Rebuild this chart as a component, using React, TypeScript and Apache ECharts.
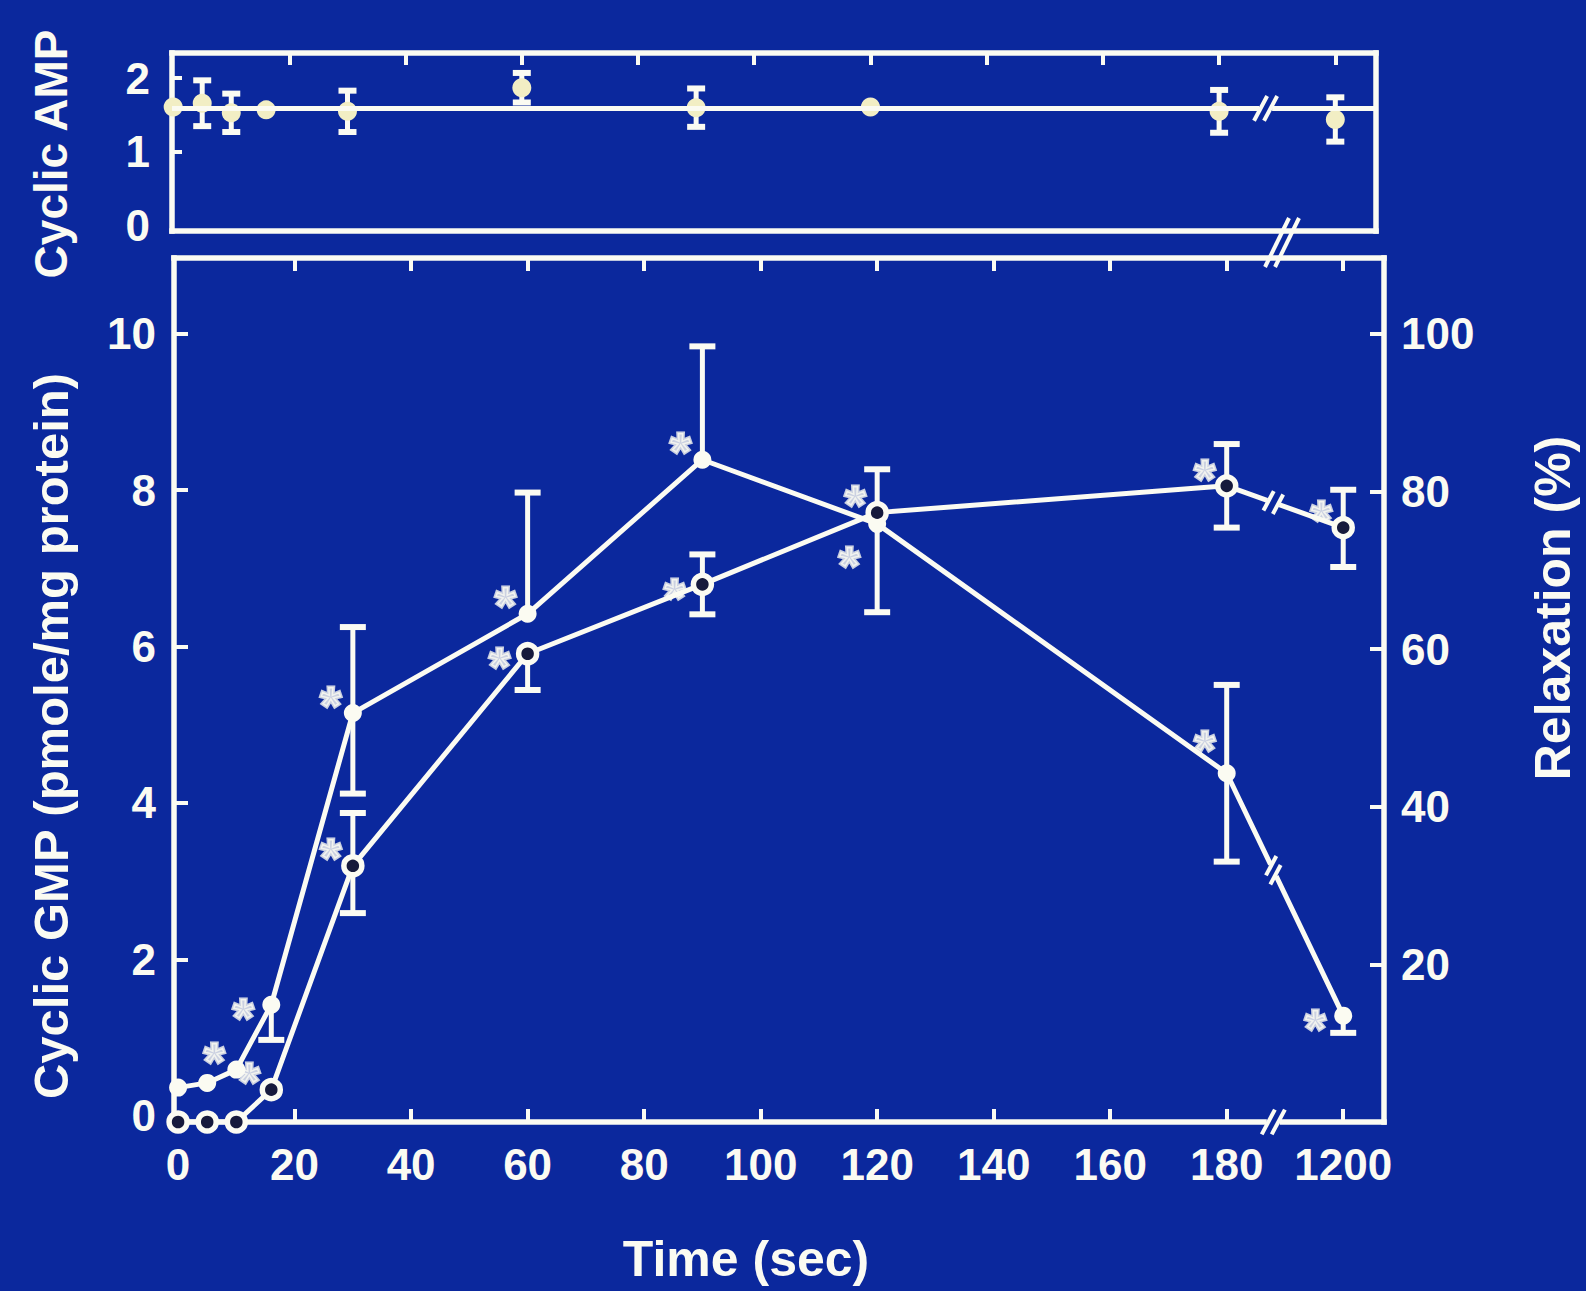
import { useEffect, useRef } from "react";
import * as echarts from "echarts";

// ---------------- data ----------------
const times = [0, 5, 10, 16, 30, 60, 90, 120, 180, 1200];
const xTickValues = [0, 20, 40, 60, 80, 100, 120, 140, 160, 180, 200];
const xTickLabels = ["0", "20", "40", "60", "80", "100", "120", "140", "160", "180", "1200"];

// cyclic AMP (top panel)
const cAmp = [1.61, 1.66, 1.53, 1.57, 1.55, 1.87, 1.6, 1.61, 1.55, 1.44];
const cAmpErr = [0, 0.31, 0.26, 0, 0.28, 0.2, 0.26, 0, 0.29, 0.3];
const cAmpLevel = 1.59;
const cAmpTicks = [0, 1, 2];

// cyclic GMP (pmole/mg protein), filled circles
const cGmp = [0.36, 0.42, 0.59, 1.42, 5.15, 6.42, 8.39, 7.57, 4.38, 1.28];
const cGmpErrUp = [0, 0, 0, 0, 1.1, 1.55, 1.45, 0, 1.13, 0];
const cGmpErrDown = [0, 0, 0, 0.45, 1.03, 0, 0, 1.13, 1.13, 0.22];
const cGmpTicks = [0, 2, 4, 6, 8, 10];

// relaxation (%), open circles
const relax = [0, 0, 0, 4.1, 32.5, 59.4, 68.2, 77.3, 80.7, 75.4];
const relaxErrUp = [0, 0, 0, 0, 6.7, 0, 3.8, 5.5, 5.3, 4.8];
const relaxErrDown = [0, 0, 0, 0, 6.0, 4.6, 3.8, 0, 5.3, 5.0];
const relaxTicks = [20, 40, 60, 80, 100];

// significance asterisks (placement keys, "" = none)
const cGmpStars = ["", "", "ul", "l", "ul", "ul", "ul", "dl", "uul", "l"];
const relaxStars = ["", "", "", "ul", "ul", "l", "l", "ul", "ul", "ul"];

// broken time axis: 1200 s is drawn in the slot of 200
const BROKEN_TIME = 1200;
const BROKEN_SLOT = 200;
const BREAK_AT = 188;
const PANEL_BREAK_AT = 191;
const pos = (t: number) => (t === BROKEN_TIME ? BROKEN_SLOT : t);

// ---------------- style ----------------
const BG = "#0b289d";
const WHITE = "#fbfbf2";
const CREAM = "#f2eec4";
const FONT = "'Liberation Sans', Arial, sans-serif";
const TICK_SIZE = 44;
const STAR_SIZE = 54;
const STAR_LIFT = STAR_SIZE * 0.235;

const STAR_OFFSETS: Record<string, number[]> = {
  ul: [-22, -21],
  l: [-28, 0],
  dl: [-28, 28],
  uul: [-22, -37],
};

const TOP_Y = { min: -0.07, max: 2.34 };
const GMP_Y = { min: -0.08, max: 10.97 };
const REL_Y = { min: 0, max: 109.6 };

const frameLine = { show: true, onZero: false, lineStyle: { color: WHITE, width: 5.5, cap: "square" } };
const tick = (len: number, values: number[]) => ({
  show: true,
  inside: true,
  length: len,
  customValues: values,
  lineStyle: { color: WHITE, width: 4 },
});
const label = (values: number[], margin: number, formatter?: any) => ({
  show: true,
  customValues: values,
  margin,
  color: WHITE,
  fontSize: TICK_SIZE,
  fontWeight: "bold",
  fontFamily: FONT,
  ...(formatter ? { formatter } : {}),
});
const hidden = { show: false };

function errorBars(xi: number, yi: number, vals: number[], up: number[], down: number[], cap: number, color: string) {
  return {
    type: "custom",
    xAxisIndex: xi,
    yAxisIndex: yi,
    silent: true,
    z: 1,
    data: times.map((t, i) => [pos(t), vals[i], up[i], down[i]]),
    encode: { x: 0, y: 1 },
    renderItem: (_p: any, api: any) => {
      const x = api.value(0);
      const y = api.value(1);
      const u = api.value(2);
      const d = api.value(3);
      if (!u && !d) return { type: "group", children: [] };
      const a = api.coord([x, y + u]);
      const b = api.coord([x, y - d]);
      const children: any[] = [
        { type: "line", shape: { x1: a[0], y1: a[1], x2: b[0], y2: b[1] }, style: { stroke: color, lineWidth: 5 } },
      ];
      if (u) children.push({ type: "line", shape: { x1: a[0] - cap, y1: a[1], x2: a[0] + cap, y2: a[1] }, style: { stroke: color, lineWidth: 6 } });
      if (d) children.push({ type: "line", shape: { x1: b[0] - cap, y1: b[1], x2: b[0] + cap, y2: b[1] }, style: { stroke: color, lineWidth: 6 } });
      return { type: "group", children };
    },
  };
}

function starSeries(xi: number, yi: number, vals: number[], flags: string[]) {
  const data: any[] = [];
  times.forEach((t, i) => {
    if (flags[i]) {
      const o = STAR_OFFSETS[flags[i]];
      data.push({ value: [pos(t), vals[i]], label: { offset: [o[0], o[1] + STAR_LIFT] } });
    }
  });
  return {
    type: "scatter",
    xAxisIndex: xi,
    yAxisIndex: yi,
    silent: true,
    z: 6,
    symbolSize: 1,
    itemStyle: { color: "rgba(0,0,0,0)" },
    label: {
      show: true,
      formatter: "*",
      position: "inside",
      color: WHITE,
      fontSize: STAR_SIZE,
      fontWeight: "bold",
      fontFamily: FONT,
      textBorderColor: WHITE,
      textBorderWidth: 3,
    },
    data,
  };
}

// a "//" break glyph at (cx, cy) on a line of direction (ux, uy)
function breakGlyph(cx: number, cy: number, ux: number, uy: number, half: number, gap: number, cover: number) {
  const sx = 0.47;
  const sy = -0.883;
  const children: any[] = [
    {
      type: "line",
      shape: { x1: cx - ux * gap * 1.3, y1: cy - uy * gap * 1.3, x2: cx + ux * gap * 1.3, y2: cy + uy * gap * 1.3 },
      style: { stroke: BG, lineWidth: cover },
    },
  ];
  [-1, 1].forEach((k) => {
    const px = cx + ux * gap * k;
    const py = cy + uy * gap * k;
    children.push({
      type: "line",
      shape: { x1: px - sx * half, y1: py - sy * half, x2: px + sx * half, y2: py + sy * half },
      style: { stroke: WHITE, lineWidth: 4 },
    });
  });
  return { type: "group", children };
}

function lineBreakSeries(xi: number, yi: number, vals: number[]) {
  const n = times.length;
  return {
    type: "custom",
    xAxisIndex: xi,
    yAxisIndex: yi,
    silent: true,
    z: 7,
    data: [[pos(times[n - 2]), vals[n - 2], pos(times[n - 1]), vals[n - 1]]],
    encode: { x: [0, 2], y: [1, 3] },
    renderItem: (_p: any, api: any) => {
      const p1 = api.coord([api.value(0), api.value(1)]);
      const p2 = api.coord([api.value(2), api.value(3)]);
      const f = (BREAK_AT - api.value(0)) / (api.value(2) - api.value(0));
      const cx = p1[0] + (p2[0] - p1[0]) * f;
      const cy = p1[1] + (p2[1] - p1[1]) * f;
      const L = Math.hypot(p2[0] - p1[0], p2[1] - p1[1]);
      return breakGlyph(cx, cy, (p2[0] - p1[0]) / L, (p2[1] - p1[1]) / L, 11, 5, 10);
    },
  };
}

function axisBreakSeries(xi: number, yi: number, yVal: number, x: number) {
  return {
    type: "custom",
    xAxisIndex: xi,
    yAxisIndex: yi,
    silent: true,
    z: 7,
    data: [[x, yVal]],
    renderItem: (_p: any, api: any) => {
      const c = api.coord([api.value(0), api.value(1)]);
      return breakGlyph(c[0], c[1], 1, 0, 14, 5, 10);
    },
  };
}

function panelBreakSeries() {
  return {
    type: "custom",
    xAxisIndex: 0,
    yAxisIndex: 0,
    silent: true,
    z: 7,
    data: [[PANEL_BREAK_AT, TOP_Y.min]],
    renderItem: (_p: any, api: any) => {
      const c = api.coord([api.value(0), api.value(1)]);
      const children: any[] = [];
      [-5, 5].forEach((dx) => {
        children.push({
          type: "line",
          shape: { x1: c[0] + dx + 11, y1: c[1] - 13, x2: c[0] + dx - 13, y2: c[1] + 36 },
          style: { stroke: WHITE, lineWidth: 4 },
        });
      });
      return { type: "group", children };
    },
  };
}

const titleText = (text: string, x: number, y: number, rotate: boolean, size: number) => ({
  type: "text",
  x,
  y,
  rotation: rotate ? Math.PI / 2 : 0,
  silent: true,
  style: {
    text,
    fill: WHITE,
    fontSize: size,
    fontWeight: "bold",
    fontFamily: FONT,
    align: "center",
    verticalAlign: "middle",
  },
});

export default function App() {
  const ref = useRef<HTMLDivElement>(null);

  useEffect(() => {
    if (!ref.current) return;
    const chart = echarts.init(ref.current, null, { renderer: "svg" });

    const xFmt = (v: number) => xTickLabels[xTickValues.indexOf(v)] ?? "";

    const option: any = {
      animation: false,
      backgroundColor: BG,
      grid: [
        { left: 172, top: 53, width: 1204, height: 178 },
        { left: 174, top: 258, width: 1210, height: 864 },
      ],
      xAxis: [
        { gridIndex: 0, type: "value", min: -0.2, max: 207, position: "bottom", axisLine: frameLine, axisTick: hidden, axisLabel: hidden, splitLine: hidden },
        { gridIndex: 0, type: "value", min: -0.2, max: 207, position: "top", axisLine: frameLine, axisTick: tick(12, xTickValues.slice(1)), axisLabel: hidden, splitLine: hidden },
        { gridIndex: 1, type: "value", min: -0.7, max: 207, position: "bottom", axisLine: frameLine, axisTick: tick(13, xTickValues.slice(1)), axisLabel: label(xTickValues, 20, xFmt), splitLine: hidden },
        { gridIndex: 1, type: "value", min: -0.7, max: 207, position: "top", axisLine: frameLine, axisTick: tick(13, xTickValues.slice(1)), axisLabel: hidden, splitLine: hidden },
      ],
      yAxis: [
        { gridIndex: 0, type: "value", ...TOP_Y, position: "left", axisLine: frameLine, axisTick: tick(10, [1, 2]), axisLabel: label(cAmpTicks, 22), splitLine: hidden },
        { gridIndex: 0, type: "value", ...TOP_Y, position: "right", axisLine: frameLine, axisTick: hidden, axisLabel: hidden, splitLine: hidden },
        { gridIndex: 1, type: "value", ...GMP_Y, position: "left", axisLine: frameLine, axisTick: tick(14, cGmpTicks.slice(1)), axisLabel: label(cGmpTicks, 18), splitLine: hidden },
        { gridIndex: 1, type: "value", ...REL_Y, position: "right", axisLine: frameLine, axisTick: tick(14, relaxTicks), axisLabel: label(relaxTicks, 17), splitLine: hidden },
      ],
      series: [
        // top panel
        errorBars(0, 0, cAmp, cAmpErr, cAmpErr, 9, WHITE),
        {
          type: "scatter",
          xAxisIndex: 0,
          yAxisIndex: 0,
          z: 4,
          silent: true,
          symbol: "circle",
          symbolSize: 19,
          itemStyle: { color: CREAM, opacity: 1 },
          data: times.map((t, i) => [pos(t), cAmp[i]]),
          markLine: {
            silent: true,
            symbol: ["none", "none"],
            label: { show: false },
            lineStyle: { color: WHITE, width: 5, type: "solid" },
            data: [{ yAxis: cAmpLevel }],
          },
        },
        axisBreakSeries(0, 0, cAmpLevel, BREAK_AT),
        panelBreakSeries(),
        // bottom panel
        errorBars(2, 2, cGmp, cGmpErrUp, cGmpErrDown, 13, WHITE),
        errorBars(2, 3, relax, relaxErrUp, relaxErrDown, 13, WHITE),
        {
          type: "line",
          xAxisIndex: 2,
          yAxisIndex: 2,
          z: 3,
          silent: true,
          symbol: "circle",
          symbolSize: 18,
          itemStyle: { color: WHITE, borderWidth: 0 },
          lineStyle: { color: WHITE, width: 5 },
          data: times.map((t, i) => [pos(t), cGmp[i]]),
        },
        {
          type: "line",
          xAxisIndex: 2,
          yAxisIndex: 3,
          z: 4,
          silent: true,
          symbol: "circle",
          symbolSize: 18,
          itemStyle: { color: "#161a3c", borderColor: WHITE, borderWidth: 5.5 },
          lineStyle: { color: WHITE, width: 5 },
          data: times.map((t, i) => [pos(t), relax[i]]),
        },
        starSeries(2, 2, cGmp, cGmpStars),
        starSeries(2, 3, relax, relaxStars),
        lineBreakSeries(2, 2, cGmp),
        lineBreakSeries(2, 3, relax),
        axisBreakSeries(2, 2, GMP_Y.min, BREAK_AT),
      ],
      graphic: [
        titleText("Cyclic AMP", 51, 154, true, 46),
        titleText("Cyclic GMP (pmole/mg protein)", 51, 736, true, 49),
        titleText("Relaxation (%)", 1553, 608, true, 50),
        titleText("Time (sec)", 746, 1259, false, 50),
      ],
    };

    chart.setOption(option);
    return () => chart.dispose();
  }, []);

  return (
    <div
      ref={ref}
      style={{ position: "fixed", left: 0, top: 0, width: 1586, height: 1291 }}
    />
  );
}
